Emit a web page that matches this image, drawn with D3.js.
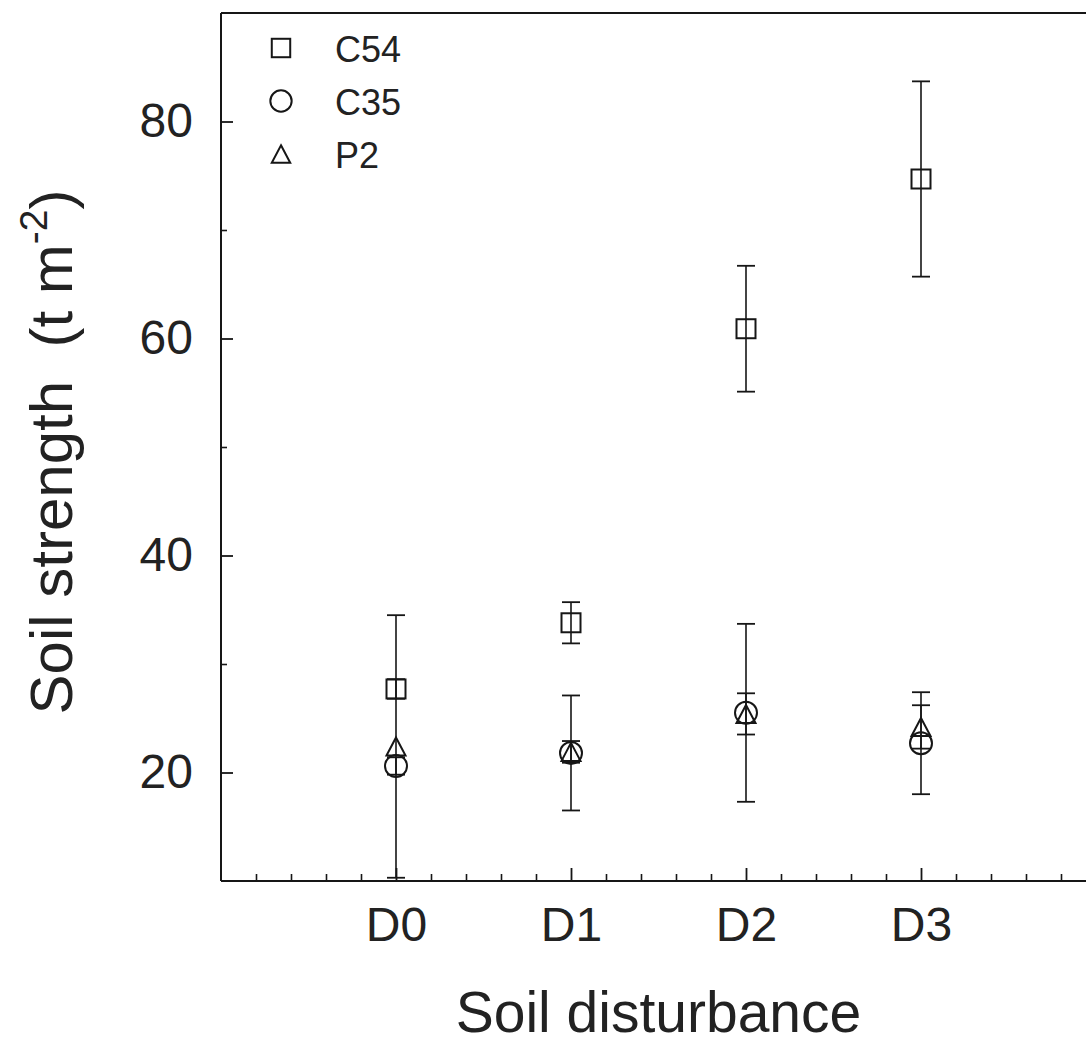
<!DOCTYPE html>
<html><head><meta charset="utf-8">
<script src="https://cdn.jsdelivr.net/npm/d3@7"></script>
<style>
body{margin:0;background:#fff;}
svg{display:block;background:#fff;}
text{font-family:"Liberation Sans",Arial,Helvetica,sans-serif;fill:#222;}
</style>
</head><body>
<svg id="chart" width="1086" height="1045"></svg>
<script>
// ---- data ----
const categories = ["D0", "D1", "D2", "D3"];
const seriesNames = ["C54", "C35", "P2"];
const c54Mean = [27.7, 33.8, 60.9, 74.7];
const c54Err  = [0.9, 1.9, 5.8, 9.0];
const c35Mean = [20.6, 21.8, 25.5, 22.7];
const c35Err  = [0.8, 5.3, 8.2, 4.7];
const p2Mean  = [22.4, 21.9, 25.4, 24.2];
const p2Err   = [12.1, 1.0, 1.9, 2.0];
const yMajorTicks = [20, 40, 60, 80];
const yMinorTicks = [30, 50, 70];
const xTitle = "Soil disturbance";

// ---- layout ----
(function () {
const W = 1086, H = 1045;
const plotL = 221, plotT = 13, plotB = 881, plotR = 1096;
const svg = d3.select("#chart");
const x = d3.scaleLinear().domain([0, 5]).range([plotL, plotR]);
const y = d3.scaleLinear().domain([10, 90]).range([plotB, plotT]);
const ink = "#161616";

const series = [
  {name: seriesNames[0], mean: c54Mean, err: c54Err, shape: "square"},
  {name: seriesNames[1], mean: c35Mean, err: c35Err, shape: "circle"},
  {name: seriesNames[2], mean: p2Mean,  err: p2Err,  shape: "triangle"}
];

// frame
svg.append("line").attr("x1", plotL).attr("x2", plotL).attr("y1", plotT).attr("y2", plotB)
  .attr("stroke", ink).attr("stroke-width", 2);
svg.append("line").attr("x1", plotL).attr("x2", W).attr("y1", plotT).attr("y2", plotT)
  .attr("stroke", ink).attr("stroke-width", 2);
svg.append("line").attr("x1", plotL).attr("x2", W).attr("y1", plotB).attr("y2", plotB)
  .attr("stroke", ink).attr("stroke-width", 2);

// x axis: major ticks with labels
const xMajor = categories.map((c, i) => i + 1);
const xMinor = d3.range(1, 25).map(k => k * 0.2).filter(v => Math.abs(v - Math.round(v)) > 1e-6);
const gx = svg.append("g").attr("transform", `translate(0,${plotB})`)
  .call(d3.axisBottom(x).tickValues(xMajor).tickSize(-13).tickPadding(26)
    .tickFormat(d => categories[d - 1]));
gx.select(".domain").remove();
gx.selectAll("line").attr("stroke", ink).attr("stroke-width", 1.8);
gx.selectAll("text").attr("font-size", 48).attr("fill", "#222")
  .attr("font-family", '"Liberation Sans",Arial,sans-serif');
const gxm = svg.append("g").attr("transform", `translate(0,${plotB})`)
  .call(d3.axisBottom(x).tickValues(xMinor).tickSize(-7).tickFormat(""));
gxm.select(".domain").remove();
gxm.selectAll("line").attr("stroke", ink).attr("stroke-width", 1.6);

// y axis
const gy = svg.append("g").attr("transform", `translate(${plotL},0)`)
  .call(d3.axisLeft(y).tickValues(yMajorTicks).tickSize(-12).tickPadding(28).tickFormat(d3.format("d")));
gy.select(".domain").remove();
gy.selectAll("line").attr("stroke", ink).attr("stroke-width", 1.8);
gy.selectAll("text").attr("font-size", 48).attr("fill", "#222")
  .attr("font-family", '"Liberation Sans",Arial,sans-serif');
const gym = svg.append("g").attr("transform", `translate(${plotL},0)`)
  .call(d3.axisLeft(y).tickValues(yMinorTicks).tickSize(-6).tickFormat(""));
gym.select(".domain").remove();
gym.selectAll("line").attr("stroke", ink).attr("stroke-width", 1.6);

// symbol drawing
function drawSymbol(g, shape, cx, cy, s) {
  if (shape === "square") {
    g.append("rect").attr("x", cx - 9.5 * s).attr("y", cy - 9.5 * s)
      .attr("width", 19 * s).attr("height", 19 * s)
      .attr("fill", "none").attr("stroke", ink).attr("stroke-width", 2);
  } else if (shape === "circle") {
    g.append("circle").attr("cx", cx).attr("cy", cy).attr("r", 11 * s)
      .attr("fill", "none").attr("stroke", ink).attr("stroke-width", 2);
  } else {
    const p = d3.path();
    p.moveTo(cx, cy - 9 * s);
    p.lineTo(cx + 9.5 * s, cy + 9 * s);
    p.lineTo(cx - 9.5 * s, cy + 9 * s);
    p.closePath();
    g.append("path").attr("d", p.toString())
      .attr("fill", "none").attr("stroke", ink).attr("stroke-width", 2);
  }
}

// error bars
const gErr = svg.append("g");
series.forEach(s => {
  s.mean.forEach((m, i) => {
    const cx = x(i + 1), hi = y(m + s.err[i]), lo = y(m - s.err[i]);
    gErr.append("line").attr("x1", cx).attr("x2", cx).attr("y1", hi).attr("y2", lo)
      .attr("stroke", ink).attr("stroke-width", 1.6);
    [hi, lo].forEach(yy => gErr.append("line").attr("x1", cx - 9).attr("x2", cx + 9)
      .attr("y1", yy).attr("y2", yy).attr("stroke", ink).attr("stroke-width", 1.8));
  });
});

// points
const gPts = svg.append("g");
series.forEach(s => {
  s.mean.forEach((m, i) => drawSymbol(gPts, s.shape, x(i + 1), y(m), 1));
});

// legend
const legendY = [48, 101, 154];
series.forEach((s, k) => {
  drawSymbol(svg, s.shape, 281, legendY[k], 0.97);
  svg.append("text").attr("x", 335).attr("y", legendY[k] + 14)
    .attr("font-size", 36).text(s.name);
});

// x title
svg.append("text").attr("x", (plotL + plotR) / 2).attr("y", 1032)
  .attr("text-anchor", "middle").attr("font-size", 57).text(xTitle);

// y title
const yt = svg.append("text").attr("transform", "translate(72,452) rotate(-90)")
  .attr("text-anchor", "middle").attr("font-size", 60);
yt.append("tspan").text("Soil strength\u00A0\u00A0(t m");
yt.append("tspan").attr("font-size", 39).attr("dy", -25).text("-2");
yt.append("tspan").attr("dy", 25).text(")");
})();
</script>
</body></html>
